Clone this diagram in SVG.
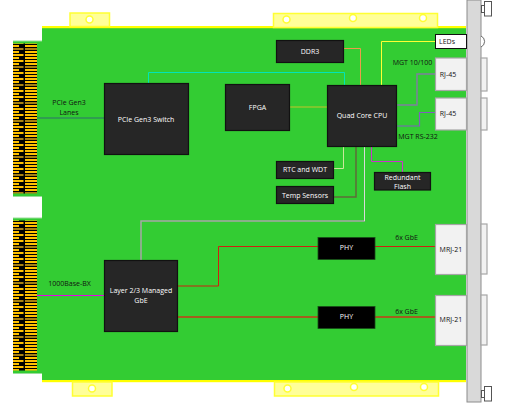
<svg xmlns="http://www.w3.org/2000/svg" width="524" height="410" viewBox="0 0 524 410">
<style>
.tab{fill:#ffff99;stroke:#ffff33;stroke-width:1.5}
.hole{fill:#fff;stroke:#ffff33;stroke-width:1.5}
.chip{fill:#262626;stroke:#111;stroke-width:1.2}
.phy{fill:#000;stroke:#1a4d1a;stroke-width:.8}
.port{fill:#f2f2f2;stroke:#a6a6a6;stroke-width:1.2}
.back{fill:#f2f2f2;stroke:#a6a6a6;stroke-width:1.2}
.w{fill:#fff;font:500 7px "Open Sans","Liberation Sans",sans-serif;text-anchor:middle}
.k{fill:#111;font:7px "Open Sans","Liberation Sans",sans-serif;text-anchor:middle}
.c{fill:none}
</style>
<defs>
<pattern id="gold" width="24" height="18" patternUnits="userSpaceOnUse">
<rect width="24" height="18" fill="#000"/>
<rect x="1" y="0" width="22.500" height="2" fill="#ffc000"/>
<rect x="1" y="3" width="18" height="2" fill="#ffc000"/>
<rect x="1" y="6" width="22.500" height="2" fill="#ffc000"/>
<rect x="1" y="9" width="18" height="2" fill="#ffc000"/>
<rect x="1" y="12" width="22.500" height="2" fill="#a88010"/>
<rect x="1" y="15" width="18" height="2" fill="#ffc000"/>
</pattern>
</defs>
<g id="board">
<rect x="42" y="27" width="424" height="353" fill="#33cc33"/>
<rect x="13" y="41" width="29" height="156" fill="#33cc33"/>
<rect x="13" y="218" width="29" height="156" fill="#33cc33"/>
<rect x="13" y="40.500" width="29" height="1" fill="#99dd99"/>
<rect x="13" y="196" width="29" height="1" fill="#99dd99"/>
<rect x="13" y="217.500" width="29" height="1" fill="#99dd99"/>
<rect x="13" y="373" width="29" height="1" fill="#99dd99"/>
<rect x="42" y="26" width="424" height="2.200" fill="#ffff00"/>
<rect x="42" y="380" width="424" height="2.200" fill="#ffff00"/>
</g>
<g id="tabs">
<rect class="tab" x="70" y="13" width="39.500" height="13.500"/>
<circle class="hole" cx="89.500" cy="19.500" r="3.500"/>
<rect class="tab" x="273.500" y="13.500" width="164" height="14"/>
<circle class="hole" cx="286.500" cy="19.500" r="3.500"/>
<circle class="hole" cx="353" cy="18" r="3.500"/>
<circle class="hole" cx="423" cy="18" r="3.500"/>
<rect class="tab" x="72.500" y="382" width="39.500" height="14"/>
<circle class="hole" cx="92" cy="388.500" r="3.500"/>
<rect class="tab" x="274.500" y="382" width="164" height="14"/>
<circle class="hole" cx="287.500" cy="388.500" r="3.500"/>
<circle class="hole" cx="354" cy="387" r="3.500"/>
<circle class="hole" cx="424" cy="387" r="3.500"/>
</g>
<g id="edge-connector-top"><rect x="13" y="43.500" width="24" height="150" fill="url(#gold)"/></g>
<g id="edge-connector-bottom"><rect x="13" y="220.500" width="24" height="150" fill="url(#gold)"/></g>
<g id="connectors" class="c">
<path d="M37 118H104" stroke="#2f6f6f" stroke-width="1"/>
<path d="M37 295.500H104" stroke="#e600e6" stroke-width="1"/>
<path d="M148.500 83V72.500H344.500V85" stroke="#00e6b8" stroke-width="1"/>
<path d="M141 260V221H365" stroke="#a6a6a6" stroke-width="1.500"/>
<path d="M364.500 221V146" stroke="#d9d9d9" stroke-width="1"/>
<path d="M343 48.500H360.500V85" stroke="#ed9b4c" stroke-width="1"/>
<path d="M290 107H327" stroke="#c4c42a" stroke-width="1"/>
<path d="M333 168.500H343.500V146" stroke="#c9e89a" stroke-width="1"/>
<path d="M333 197H356V146" stroke="#5f6b3a" stroke-width="1.500"/>
<path d="M371.500 146V161.500H402.500V172" stroke="#cc33cc" stroke-width="1"/>
<path d="M381.500 85V41.500H435" stroke="#ffff33" stroke-width="1"/>
<path d="M396 105H417V74H435" stroke="#7f7f9f" stroke-width="1.500"/>
<path d="M396 126H419.500V112.500H435" stroke="#7f5fbf" stroke-width="1.200"/>
<path d="M178 286H218.500V246.500H318" stroke="#d02010" stroke-width="1"/>
<path d="M178 317H318" stroke="#c83a18" stroke-width="1.300"/>
<path d="M375 246.500H435" stroke="#d02010" stroke-width="1"/>
<path d="M375 317H435" stroke="#c83a18" stroke-width="1.300"/>
</g>
<g id="faceplate">
<rect x="467" y="0" width="14" height="402" fill="#d9d9d9" stroke="#8c8c8c" stroke-width="1"/>
<path d="M481 36A6 6 0 0 1 481 47" fill="#fff" stroke="#444" stroke-width=".8"/>
<rect class="back" x="481" y="58" width="6" height="33"/>
<rect class="back" x="481" y="98" width="6" height="32"/>
<rect class="back" x="481" y="224" width="6" height="50"/>
<rect class="back" x="481" y="295" width="6" height="50"/>
</g>
<g id="screw-top" fill="#fff" stroke="#555" stroke-width="1">
<rect x="481.500" y="5.500" width="3" height="7"/>
<rect x="484.500" y="1.500" width="7" height="14.500"/>
</g>
<g id="screw-bottom" fill="#fff" stroke="#555" stroke-width="1">
<rect x="481.500" y="390.500" width="3" height="7"/>
<rect x="484.500" y="386.500" width="7" height="14.500"/>
</g>
<g id="pcie-switch"><rect class="chip" x="104.500" y="83.500" width="84" height="71"/><text class="w" x="146" y="122">PCIe Gen3 Switch</text></g>
<g id="layer-switch"><rect class="chip" x="104.500" y="260.500" width="73" height="71"/><text class="w" x="141" y="293">Layer 2/3 Managed</text><text class="w" x="141" y="303">GbE</text></g>
<g id="fpga"><rect class="chip" x="225.500" y="84.500" width="64" height="46"/><text class="w" x="257.500" y="110">FPGA</text></g>
<g id="ddr3"><rect class="chip" x="276.500" y="40.500" width="67" height="22"/><text class="w" x="310" y="54">DDR3</text></g>
<g id="cpu"><rect class="chip" x="327.500" y="85.500" width="69" height="61"/><text class="w" x="362" y="118">Quad Core CPU</text></g>
<g id="rtc"><rect class="chip" x="276.500" y="161.500" width="57" height="17"/><text class="w" x="305" y="172">RTC and WDT</text></g>
<g id="temp"><rect class="chip" x="276.500" y="186.500" width="57" height="17"/><text class="w" x="305" y="198">Temp Sensors</text></g>
<g id="flash"><rect class="chip" x="374.500" y="172.500" width="56" height="17.500"/><text class="w" x="402.500" y="179.500">Redundant</text><text class="w" x="402.500" y="188.500">Flash</text></g>
<g id="phy1"><rect class="phy" x="318" y="237.500" width="57" height="22"/><text class="w" x="346.500" y="250">PHY</text></g>
<g id="phy2"><rect class="phy" x="318" y="306.500" width="57" height="22"/><text class="w" x="346.500" y="319">PHY</text></g>
<g id="leds"><rect x="435.500" y="34.500" width="31" height="14" fill="#fff" stroke="#111" stroke-width="1"/><text class="k" x="447" y="44">LEDs</text></g>
<g id="rj45-1"><rect class="port" x="435.500" y="58" width="31" height="32.500"/><text class="k" x="448" y="77">RJ-45</text></g>
<g id="rj45-2"><rect class="port" x="435.500" y="98" width="31" height="32"/><text class="k" x="448" y="116">RJ-45</text></g>
<g id="mrj-1"><rect class="port" x="435.500" y="224.500" width="31" height="50"/><text class="k" x="451" y="252">MRJ-21</text></g>
<g id="mrj-2"><rect class="port" x="435.500" y="295.500" width="31" height="50"/><text class="k" x="451" y="322">MRJ-21</text></g>
<g id="labels">
<text class="k" x="69" y="105">PCIe Gen3</text>
<text class="k" x="69" y="115">Lanes</text>
<text class="k" x="69.500" y="286">1000Base-BX</text>
<text class="k" x="412.500" y="65">MGT 10/100</text>
<text class="k" x="418" y="139">MGT RS-232</text>
<text class="k" x="406.500" y="240">6x GbE</text>
<text class="k" x="406.500" y="314">6x GbE</text>
</g>
</svg>
